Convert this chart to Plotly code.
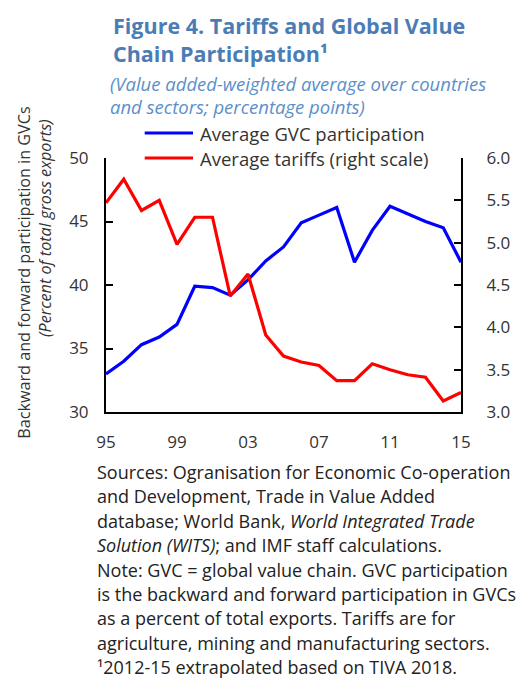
import plotly.graph_objects as go

years = list(range(1995, 2016))
gvc_participation = [33.0, 34.0, 35.3, 35.9, 36.9, 39.9, 39.8, 39.2, 40.4, 41.9, 43.0,
                     44.9, 45.5, 46.1, 41.8, 44.3, 46.2, 45.6, 45.0, 44.5, 41.8]
avg_tariffs = [5.47, 5.75, 5.38, 5.50, 4.98, 5.30, 5.30, 4.37, 4.63, 3.91, 3.66,
               3.59, 3.55, 3.37, 3.37, 3.57, 3.50, 3.44, 3.41, 3.13, 3.23]
x_ticks = [1995, 1999, 2003, 2007, 2011, 2015]
x_ticktext = ["95", "99", "03", "07", "11", "15"]
series_names = ["Average GVC participation", "Average tariffs (right scale)"]
series_colors = ["#0000ff", "#ff0000"]

title_text = "<b>Figure 4. Tariffs and Global Value<br>Chain Participation¹</b>"
subtitle_lines = [
    "(Value added-weighted average over countries",
    "and sectors; percentage points)",
]
y_title_lines = [
    "Backward and forward participation in GVCs",
    "<i>(Percent of total gross exports)</i>",
]
note_lines = [
    "Sources: Ogranisation for Economic Co-operation",
    "and Development, Trade in Value Added",
    "database; World Bank, <i>World Integrated Trade</i>",
    "<i>Solution (WITS)</i>; and IMF staff calculations.",
    "Note: GVC = global value chain. GVC participation",
    "is the backward and forward participation in GVCs",
    "as a percent of total exports. Tariffs are for",
    "agriculture, mining and manufacturing sectors.",
    "¹2012-15 extrapolated based on TIVA 2018.",
]

W, H = 522, 680
L, R, T, B = 106, 49, 158, 268
FONT = "Open Sans"
TEXT = "#333333"


def px(x):
    return (x - L) / (W - L - R)


def py(y):
    return (H - B - y) / (H - T - B)


fig = go.Figure()
fig.add_trace(go.Scatter(
    x=years, y=gvc_participation, mode="lines",
    line={"color": series_colors[0], "width": 3.2},
    name=series_names[0],
))
fig.add_trace(go.Scatter(
    x=years, y=avg_tariffs, mode="lines", yaxis="y2",
    line={"color": series_colors[1], "width": 3.2},
    name=series_names[1],
))

# legend drawn by hand so the sample lines can be as long as in the original
for i, (name, color) in enumerate(zip(series_names, series_colors)):
    y = py(133 + 25 * i)
    fig.add_shape(type="line", xref="paper", yref="paper",
                  x0=px(146), x1=px(196), y0=y, y1=y,
                  line={"color": color, "width": 3.2})
    fig.add_annotation(
        x=px(201), y=y, xref="paper", yref="paper", xanchor="left", yanchor="middle",
        text=name, showarrow=False,
        font={"family": FONT, "size": 18.5, "color": TEXT},
    )

fig.add_annotation(
    x=px(111), y=py(9), xref="paper", yref="paper", xanchor="left", yanchor="top",
    text=title_text, showarrow=False, align="left",
    font={"family": FONT, "size": 21.5, "color": "#4a7db5"},
)
for i, line in enumerate(subtitle_lines):
    fig.add_annotation(
        x=px(108), y=py(83 + 24 * i), xref="paper", yref="paper",
        xanchor="left", yanchor="middle",
        text=f"<i>{line}</i>", showarrow=False, align="left",
        font={"family": FONT, "size": 18.5, "color": "#5b8fc9"},
    )
for i, line in enumerate(note_lines):
    fig.add_annotation(
        x=px(95), y=py(472 + 24.4 * i), xref="paper", yref="paper",
        xanchor="left", yanchor="middle",
        text=line, showarrow=False, align="left",
        font={"family": FONT, "size": 18, "color": "#222222"},
    )
for line, (cx, cy) in zip(y_title_lines, [(21, 273), (43, 228)]):
    fig.add_annotation(
        x=px(cx), y=py(cy), xref="paper", yref="paper",
        xanchor="center", yanchor="middle", textangle=-90,
        text=line, showarrow=False,
        font={"family": FONT, "size": 16.2, "color": TEXT},
    )

axis_common = dict(
    showline=True, linecolor="black", linewidth=2, showgrid=False, zeroline=False,
    tickfont={"family": FONT, "size": 17, "color": TEXT},
)
fig.update_layout(
    width=W, height=H,
    margin={"l": L, "r": R, "t": T, "b": B},
    paper_bgcolor="white", plot_bgcolor="white",
    showlegend=False,
    xaxis=dict(
        axis_common, range=[1995, 2015], tickvals=x_ticks, ticktext=x_ticktext,
        ticks="", ticklabelstandoff=14,
    ),
    yaxis=dict(
        axis_common, range=[30, 50], tickvals=[30, 35, 40, 45, 50],
        ticks="inside", ticklen=7, tickcolor="black", tickwidth=2,
        ticklabelstandoff=12,
    ),
    yaxis2=dict(
        axis_common, range=[3.0, 6.0], tickvals=[3.0, 3.5, 4.0, 4.5, 5.0, 5.5, 6.0],
        tickformat=".1f", overlaying="y", side="right",
        ticks="inside", ticklen=7, tickcolor="black", tickwidth=2,
        ticklabelstandoff=20,
    ),
)

fig.write_html("out.html", config={"displayModeBar": False},
               post_script="document.body.style.margin = '0';")
